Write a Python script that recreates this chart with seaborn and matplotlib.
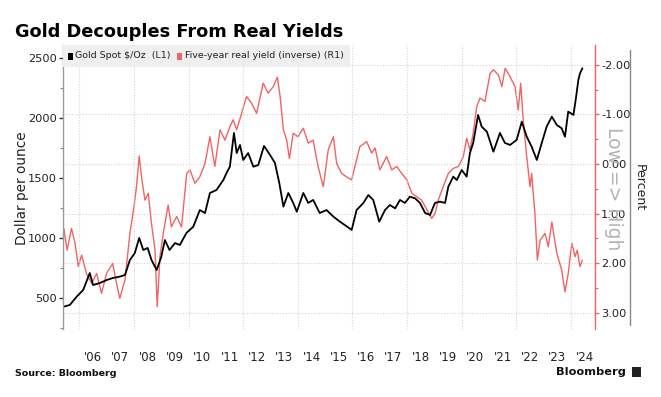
import matplotlib
matplotlib.use("Agg")
import matplotlib.pyplot as plt
import seaborn as sns
import pandas as pd
from matplotlib.lines import Line2D
from matplotlib.patches import Rectangle
from matplotlib.ticker import FixedLocator, MultipleLocator, FuncFormatter

# ---------------- data ----------------
gold_years = [
    2005.43, 2005.65, 2005.90, 2006.14, 2006.38, 2006.50, 2006.75, 2007.00, 2007.23, 2007.48,
    2007.67, 2007.85, 2008.03, 2008.19, 2008.34, 2008.50, 2008.64, 2008.83, 2009.00, 2009.13,
    2009.30, 2009.50, 2009.68, 2009.92, 2010.17, 2010.41, 2010.60, 2010.78, 2011.02, 2011.27,
    2011.39, 2011.51, 2011.66, 2011.76, 2011.88, 2012.00, 2012.18, 2012.37, 2012.55, 2012.76,
    2012.98, 2013.16, 2013.32, 2013.47, 2013.65, 2013.83, 2013.96, 2014.20, 2014.38, 2014.56,
    2014.80, 2015.05, 2015.30, 2015.54, 2015.72, 2015.97, 2016.15, 2016.40, 2016.58, 2016.76,
    2016.98, 2017.19, 2017.37, 2017.56, 2017.74, 2017.92, 2018.10, 2018.29, 2018.47, 2018.66,
    2018.84, 2019.02, 2019.20, 2019.39, 2019.51, 2019.69, 2019.82, 2020.00, 2020.18, 2020.30,
    2020.42, 2020.60, 2020.73, 2020.92, 2021.16, 2021.40, 2021.58, 2021.77, 2022.01, 2022.20,
    2022.38, 2022.56, 2022.75, 2022.93, 2023.11, 2023.30, 2023.48, 2023.66, 2023.78, 2023.90,
    2024.09, 2024.19, 2024.27, 2024.33, 2024.42,
]
gold_price = [
    428, 442, 511, 567, 708, 608, 625, 650, 667, 678,
    692, 817, 875, 1000, 900, 917, 817, 733, 844, 983,
    900, 958, 942, 1042, 1094, 1233, 1208, 1375, 1400, 1483,
    1542, 1594, 1875, 1708, 1775, 1650, 1708, 1594, 1608, 1767,
    1692, 1625, 1458, 1261, 1375, 1292, 1219, 1375, 1292, 1317,
    1208, 1233, 1178, 1136, 1108, 1067, 1233, 1292, 1358, 1317,
    1136, 1233, 1275, 1247, 1317, 1292, 1344, 1331, 1292, 1208,
    1192, 1292, 1303, 1292, 1428, 1511, 1483, 1567, 1511, 1708,
    1792, 2025, 1928, 1886, 1719, 1875, 1792, 1775, 1817, 1969,
    1844, 1761, 1650, 1792, 1928, 2011, 1942, 1914, 1844, 2053,
    2025, 2178, 2317, 2372, 2414,
]

yield_years = [
    2005.43, 2005.55, 2005.71, 2005.84, 2005.96, 2006.08, 2006.26, 2006.45, 2006.63, 2006.81,
    2007.00, 2007.22, 2007.36, 2007.48, 2007.67, 2007.85, 2008.00, 2008.09, 2008.19, 2008.29,
    2008.40, 2008.52, 2008.64, 2008.77, 2008.85, 2008.95, 2009.07, 2009.25, 2009.37, 2009.56,
    2009.74, 2009.93, 2010.05, 2010.23, 2010.41, 2010.60, 2010.78, 2010.96, 2011.15, 2011.33,
    2011.51, 2011.63, 2011.76, 2011.94, 2012.12, 2012.30, 2012.49, 2012.73, 2012.91, 2013.10,
    2013.25, 2013.35, 2013.47, 2013.59, 2013.69, 2013.83, 2014.00, 2014.20, 2014.38, 2014.56,
    2014.74, 2014.93, 2015.11, 2015.30, 2015.42, 2015.60, 2015.78, 2015.97, 2016.09, 2016.27,
    2016.52, 2016.70, 2016.83, 2017.00, 2017.25, 2017.44, 2017.62, 2017.80, 2017.99, 2018.17,
    2018.35, 2018.53, 2018.66, 2018.90, 2019.02, 2019.14, 2019.32, 2019.51, 2019.69, 2019.88,
    2020.06, 2020.18, 2020.30, 2020.42, 2020.55, 2020.67, 2020.85, 2021.04, 2021.16, 2021.34,
    2021.47, 2021.59, 2021.77, 2021.95, 2022.07, 2022.16, 2022.26, 2022.38, 2022.50, 2022.56,
    2022.68, 2022.77, 2022.87, 2023.05, 2023.17, 2023.30, 2023.48, 2023.66, 2023.78, 2023.90,
    2024.03, 2024.15, 2024.23, 2024.33, 2024.42,
]
yield_pct = [
    1.30, 1.74, 1.30, 1.60, 2.07, 1.84, 2.21, 2.41, 2.21, 2.61,
    2.20, 2.01, 2.41, 2.71, 2.34, 1.40, 0.86, 0.46, -0.16, 0.32,
    0.73, 0.59, 1.20, 1.74, 2.88, 1.87, 1.40, 0.83, 1.27, 1.06,
    1.27, 0.19, 0.12, 0.39, 0.26, -0.01, -0.55, 0.05, -0.69, -0.48,
    -0.75, -0.89, -0.69, -1.02, -1.36, -1.23, -1.02, -1.63, -1.43, -1.56,
    -1.75, -1.36, -0.69, -0.48, -0.11, -0.62, -0.55, -0.72, -0.42, -0.48,
    0.05, 0.46, -0.28, -0.55, -0.01, 0.19, 0.26, 0.32, 0.05, -0.35,
    -0.45, -0.22, -0.32, 0.12, -0.15, 0.12, 0.05, 0.19, 0.32, 0.59,
    0.66, 0.73, 0.86, 1.10, 1.00, 0.73, 0.46, 0.19, 0.09, 0.05,
    -0.15, -0.52, -0.28, -0.62, -1.16, -1.33, -1.26, -1.83, -1.90, -1.80,
    -1.56, -1.93, -1.76, -1.56, -1.09, -1.63, -0.82, -0.15, 0.46, 0.19,
    1.00, 1.94, 1.54, 1.40, 1.67, 1.17, 1.80, 2.14, 2.58, 2.21,
    1.60, 1.87, 1.74, 2.07, 1.94,
]

year_labels = ["'06", "'07", "'08", "'09", "'10", "'11", "'12", "'13", "'14", "'15",
               "'16", "'17", "'18", "'19", "'20", "'21", "'22", "'23", "'24"]
label_years = [2006.5 + i for i in range(len(year_labels))]
gold_ticks = [500, 1000, 1500, 2000, 2500]
yield_ticks = [-2, -1, 0, 1, 2, 3]

title = "Gold Decouples From Real Yields"
gold_name = "Gold Spot $/Oz  (L1)"
yield_name = "Five-year real yield (inverse) (R1)"

# ---------------- styling ----------------
RED = "#f06464"
sns.set_style("white")
plt.rcParams['font.family'] = ['DejaVu Sans']

W, H = 661, 397
fig = plt.figure(figsize=(W / 100, H / 100), dpi=100)
L, R, T, B = 63, 595, 45, 329
ax = fig.add_axes([L / W, 1 - B / H, (R - L) / W, (B - T) / H])
ax2 = ax.twinx()

gold_df = pd.DataFrame({"year": gold_years, "price": gold_price})
yld_df = pd.DataFrame({"year": yield_years, "real_yield": yield_pct})

sns.lineplot(data=yld_df, x="year", y="real_yield", ax=ax2, color=RED, lw=1.0)
sns.lineplot(data=gold_df, x="year", y="price", ax=ax, color="black", lw=1.3)

ax.set_zorder(ax2.get_zorder() + 1)
ax.patch.set_visible(False)

ax.set_xlim(2005.40, 2024.88)
ax.set_ylim(241.7, 2608)
ax2.set_ylim(3.33, -2.40)

for a in (ax, ax2):
    a.set_xlabel("")
    a.set_ylabel("")
    for s in ("top", "bottom"):
        a.spines[s].set_visible(False)
ax.spines["right"].set_visible(False)
ax2.spines["left"].set_visible(False)
ax.spines["left"].set_color("#9a9a9a")
ax.spines["left"].set_linewidth(1.0)
ax2.spines["right"].set_color(RED)
ax2.spines["right"].set_linewidth(1.0)

# left axis
ax.yaxis.set_major_locator(FixedLocator(gold_ticks))
ax.yaxis.set_minor_locator(MultipleLocator(250))
ax.tick_params(axis="y", which="major", direction="out", length=3, width=1,
               color="#333333", labelsize=8.2, labelcolor="#222222", pad=1.5, left=True)
ax.tick_params(axis="y", which="minor", direction="out", length=2, width=0.8,
               color="#888888", left=True)

# right axis
ax2.yaxis.set_major_locator(FixedLocator(yield_ticks))
ax2.yaxis.set_minor_locator(MultipleLocator(0.5))
ax2.yaxis.set_major_formatter(FuncFormatter(lambda v, p: f"{v:.2f}"))
ax2.tick_params(axis="y", which="major", direction="out", length=3, width=1,
                color=RED, labelsize=8.2, labelcolor="#222222", pad=1.5, right=True)
ax2.tick_params(axis="y", which="minor", direction="out", length=2, width=0.8,
                color=RED, right=True)
ax2.grid(True, axis="y", which="major", color="#d4d4d4", linestyle=(0, (1, 1.5)), lw=0.8)

# x axis
ax.xaxis.set_major_locator(FixedLocator(label_years))
ax.set_xticklabels(year_labels)
ax.xaxis.set_minor_locator(FixedLocator(list(range(2006, 2025, 2))))
ax.tick_params(axis="x", which="major", length=0, labelsize=8.5, labelcolor="#222222", pad=16)
ax.tick_params(axis="x", which="minor", length=0)
ax.grid(True, axis="x", which="minor", color="#d4d4d4", linestyle=(0, (1, 1.5)), lw=0.8)
ax.grid(False, axis="x", which="major")
ax.grid(False, axis="y")

# legend box
lx1 = (350 - L) / (R - L)
ly0 = (B - 67) / (B - T)
ax.add_patch(Rectangle((0, ly0), lx1, 1 - ly0, transform=ax.transAxes,
                       facecolor="#efefef", edgecolor="none", zorder=10, clip_on=False))
ly = (B - 56) / (B - T)
ax.add_patch(Rectangle(((68 - L) / (R - L), (B - 60) / (B - T)), 5 / (R - L), 7 / (B - T),
                       transform=ax.transAxes, facecolor="black", edgecolor="none", zorder=11))
ax.text((75 - L) / (R - L), ly, gold_name, transform=ax.transAxes, fontsize=6.8,
        color="#222222", va="center", ha="left", zorder=12)
ax.add_patch(Rectangle(((177 - L) / (R - L), (B - 60) / (B - T)), 5 / (R - L), 7 / (B - T),
                       transform=ax.transAxes, facecolor=RED, edgecolor="none", zorder=11))
ax.text((185 - L) / (R - L), ly, yield_name, transform=ax.transAxes, fontsize=6.8,
        color="#222222", va="center", ha="left", zorder=12)

# figure texts
fig.text(15 / W, 1 - 37 / H, title, fontsize=12.8, fontweight="bold", color="black",
         ha="left", va="baseline")
fig.text(22 / W, 1 - 188 / H, "Dollar per ounce", rotation=90, fontsize=9.8,
         color="#222222", ha="center", va="center")
fig.text(614 / W, 1 - 189 / H, "Low => High", rotation=270, fontsize=13.5,
         color="#b4b4b4", ha="center", va="center")
fig.text(639 / W, 1 - 188 / H, "Percent", rotation=270, fontsize=9,
         color="#222222", ha="center", va="center")
fig.add_artist(Line2D([630 / W, 630 / W], [1 - 50 / H, 1 - 325 / H], color="#8a8a8a", lw=1.0))

fig.text(15 / W, 1 - 374 / H, "Source: Bloomberg", fontsize=6.8, fontweight="bold",
         color="#111111", ha="left", va="center")
fig.text(626 / W, 1 - 372 / H, "Bloomberg", fontsize=8.2, fontweight="bold",
         color="#111111", ha="right", va="center")
fig.add_artist(Rectangle((632 / W, 1 - 377 / H), 9 / W, 10 / H, facecolor="#222222",
                         edgecolor="none", transform=fig.transFigure))

fig.savefig("out.png", dpi=100, facecolor="white")
